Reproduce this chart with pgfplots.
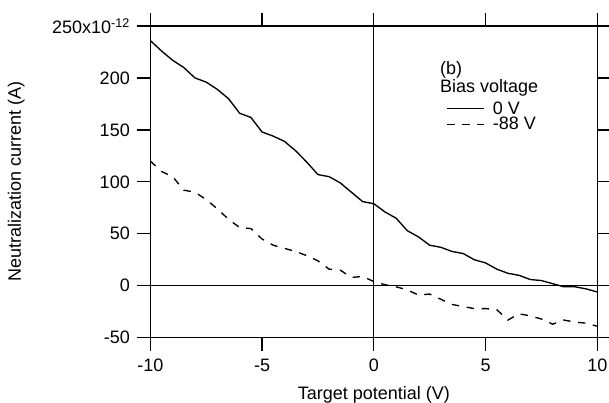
\documentclass[border=0pt]{standalone}
\usepackage{pgfplots}
\pgfplotsset{compat=1.18}
\usepackage{fontspec}
\setmainfont{Liberation Sans}
\begin{document}
\begin{tikzpicture}[font=\fontsize{18bp}{21bp}\selectfont]
\begin{axis}[
  scale only axis, width=447bp, height=311.7bp,
  xmin=-10, xmax=10, ymin=-50, ymax=250,
  xtick={-10,-5,0,5,10}, xticklabels={-10,-5,0,5,10},
  ytick={-50,0,50,100,150,200,250},
  yticklabels={-50,0,50,100,150,200,{250x10\textsuperscript{-12}}},
  tick align=outside, major tick length=13bp,
  tick style={black, line width=1.3bp},
  xticklabel pos=lower, yticklabel pos=left,
  xticklabel style={yshift=-5bp},
  yticklabel style={xshift=-4bp},
  axis line style={line width=1.3bp},
  xlabel={Target potential (V)}, ylabel={Neutralization current (A)},
  xlabel style={at={(axis description cs:0.5,-0.182)}, anchor=center},
  ylabel style={at={(axis description cs:-0.2998,0.5)}, anchor=center},
  legend style={draw=none, fill=none, at={(axis cs:3.25,178.9)}, anchor=north west,
    inner sep=0pt, row sep=-1.3bp, column sep=6.5bp, nodes={inner sep=1.5bp}},
  legend cell align=left,
  legend image code/.code={\draw[#1] (0bp,0bp) -- (37bp,0bp);},
]
\coordinate (ll) at (rel axis cs:0,0);
\coordinate (ur) at (rel axis cs:1,1);
\draw[line width=1.3bp] (axis cs:0,-50) -- (axis cs:0,250);
\draw[line width=1.3bp] (axis cs:-10,0) -- (axis cs:10,0);
\addplot[black, line width=1.35bp] coordinates {
(-10,236) (-9.5,226) (-9,217) (-8.5,210) (-8,200) (-7.5,196) (-7,189) (-6.5,180)
(-6,166) (-5.5,162) (-5,148) (-4.5,144) (-4,139) (-3.5,130) (-3,119) (-2.5,107)
(-2,105) (-1.5,99) (-1,90) (-0.5,81) (0,79) (0.5,71) (1,65) (1.5,53) (2,47)
(2.5,39) (3,37) (3.5,33) (4,31) (4.5,25) (5,22) (5.5,16) (6,12) (6.5,10) (7,6)
(7.5,5) (8,2) (8.5,-1) (9,-1) (9.5,-3) (10,-6)
};
\addlegendentry{0 V}
\addplot[black, line width=1.35bp, dash pattern=on 7.3bp off 7.7bp] coordinates {
(-10,120) (-9.5,110) (-9,105) (-8.5,92) (-8,90) (-7.5,83) (-7,74) (-6.5,64)
(-6,56) (-5.5,55) (-5,45) (-4.5,39) (-4,36) (-3.5,33) (-3,29) (-2.5,24) (-2,16)
(-1.5,15) (-1,8) (-0.5,9) (0,4) (0.5,1) (1,-1) (1.5,-4) (2,-9) (2.5,-8) (3,-13)
(3.5,-18) (4,-20) (4.5,-22) (5,-22) (5.5,-23) (6,-33) (6.5,-27) (7,-29)
(7.5,-32) (8,-37) (8.5,-33) (9,-35) (9.5,-36) (10,-39)
};
\addlegendentry{-88 V}
\node[anchor=base west, inner sep=0pt] at (axis cs:2.96,203.8) {(b)};
\node[anchor=base west, inner sep=0pt] at (axis cs:2.96,186.4) {Bias voltage};
\end{axis}
\pgfresetboundingbox
\path ([shift={(-150.3bp,-65.3bp)}]ll) rectangle ([shift={(11.7bp,26bp)}]ur);
\end{tikzpicture}
\end{document}
